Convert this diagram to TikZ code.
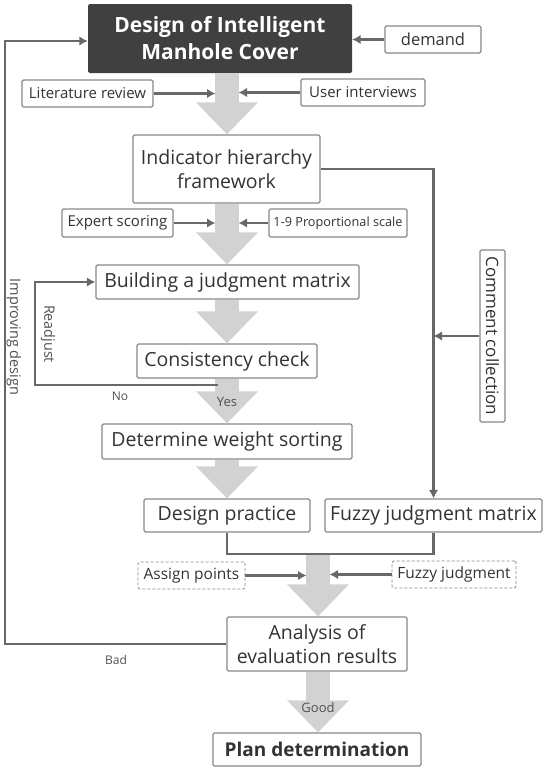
\documentclass[tikz,border=0pt]{standalone}
\usepackage{fontspec}
\setmainfont{Open Sans}
\usetikzlibrary{arrows.meta,calc}
\definecolor{txt}{HTML}{333333}
\definecolor{bord}{HTML}{888888}
\definecolor{ln}{HTML}{686868}
\definecolor{bigc}{HTML}{D2D2D2}
\definecolor{darkbox}{HTML}{404040}
\definecolor{labc}{HTML}{505050}
\begin{document}
\begin{tikzpicture}[x=1pt,y=-1pt,
  box/.style={draw=bord,line width=1.2pt,rounded corners=1.5pt,fill=white,text=txt,align=center,inner sep=0pt},
  dbox/.style={box,dashed,dash pattern=on 3pt off 2pt,line width=0.9pt},
  topbox/.style={fill=darkbox,rounded corners=1.5pt,text=white,align=center,inner sep=0pt,font=\fontsize{21}{27}\selectfont\bfseries},
  mainf/.style={font=\fontsize{19.5}{24}\selectfont},
  smallf/.style={font=\fontsize{15}{18}\selectfont},
  conn/.style={draw=ln,line width=2.5pt,-{Latex[length=8.5pt,width=9.5pt]}},
  plainln/.style={draw=ln,line width=2.5pt},
  bigarr/.style={draw=bigc,line width=24pt,-{Triangle[length=32pt,width=60pt]}},
  lab/.style={text=labc,inner sep=0pt}
]
\useasboundingbox (0,0) rectangle (550,771);

% column coordinates
\coordinate (c1) at (227,0);
\coordinate (c2) at (318,0);
\coordinate (tL) at (215.5,0);
\coordinate (tR) at (238.5,0);
\coordinate (uL) at (306.5,0);
\coordinate (uR) at (329.5,0);
\coordinate (fl) at (5,0);

% nodes
\node[topbox,minimum width=264,minimum height=69] (top) at (220,38.5) {Design of Intelligent\\Manhole Cover};
\node[box,font=\fontsize{16.5}{20}\selectfont,minimum width=96,minimum height=27] (dem) at (433,39.5) {demand};
\node[box,smallf,minimum width=131,minimum height=27] (lit) at (87.5,93.5) {Literature review};
\node[box,smallf,minimum width=124,minimum height=27] (ui) at (363,92.5) {User interviews};
\node[box,mainf,minimum width=187,minimum height=68] (ind) at (226.5,169) {Indicator hierarchy\\framework};
\node[box,smallf,minimum width=111,minimum height=28] (exp) at (117.5,223) {Expert scoring};
\node[box,font=\fontsize{12.7}{15}\selectfont,minimum width=138,minimum height=28] (scl) at (338,223) {1-9 Proportional scale};
\node[box,mainf,minimum width=263,minimum height=34] (bld) at (227.5,282) {Building a judgment matrix};
\node[box,mainf,minimum width=180,minimum height=34] (cons) at (227,361) {Consistency check};
\node[box,mainf,minimum width=250,minimum height=35] (det) at (227,441.5) {Determine weight sorting};
\node[box,mainf,minimum width=166,minimum height=33] (dp) at (227,515.5) {Design practice};
\node[box,mainf,minimum width=217,minimum height=33] (fz) at (433.5,515.5) {Fuzzy judgment matrix};
\node[dbox,font=\fontsize{15.5}{18}\selectfont,minimum width=107,minimum height=27] (asg) at (191.5,575.5) {Assign points};
\node[dbox,font=\fontsize{15.5}{18}\selectfont,minimum width=124,minimum height=27] (fj) at (454,574.5) {Fuzzy judgment};
\node[box,mainf,minimum width=180,minimum height=54] (ana) at (317,644) {Analysis of\\evaluation results};
\node[box,font=\fontsize{19}{23}\selectfont\bfseries,minimum width=208,minimum height=33] (plan) at (317,749.5) {Plan determination};
\node[box,rotate=-90,font=\fontsize{17}{20}\selectfont,minimum width=172,minimum height=25] (com) at (492.5,336) {Comment collection};

% big grey arrows
\coordinate (bj) at (318,554);
\draw[bigarr] (top.south -| c1) -- (ind.north -| c1);
\draw[bigarr] (ind.south -| c1) -- (bld.north -| c1);
\draw[bigarr] (bld.south -| c1) -- (cons.north -| c1);
\draw[bigarr] (cons.south -| c1) -- (det.north -| c1);
\draw[bigarr] (det.south -| c1) -- (dp.north -| c1);
\draw[bigarr] (bj) -- (ana.north -| c2);
\draw[bigarr] (ana.south -| c2) -- (plan.north -| c2);

% labels
\node[lab,rotate=-90,font=\fontsize{14.5}{17}\selectfont] (imp) at (14,337) {Improving design};
\node[lab,rotate=-90,font=\fontsize{14.3}{17}\selectfont] (rdj) at (48,334) {Readjust};
\node[lab,font=\fontsize{12}{14}\selectfont] (no) at (120,396) {No};
\node[lab,font=\fontsize{12}{14}\selectfont] (bad) at (116,660) {Bad};
\node[lab,font=\fontsize{13}{15}\selectfont] (yes) at (227,402) {Yes};
\node[lab,font=\fontsize{13}{15}\selectfont] (good) at (318,708) {Good};

% connectors
\draw[conn] (dem.west) -- (top.east |- dem.west);
\draw[conn] (lit.east) -- (lit.east -| tL);
\draw[conn] (ui.west) -- (ui.west -| tR);
\draw[conn] (exp.east) -- (exp.east -| tL);
\draw[conn] (scl.west) -- (scl.west -| tR);
\draw[conn] (asg.east) -- (asg.east -| uL);
\draw[conn] (fj.west) -- (fj.west -| uR);
\draw[conn] (ind.east) -| (fz.north);
\draw[conn] (com.south) -- (com.south -| fz.north);
\coordinate (ra) at (218,385);
\coordinate (rl) at (35,385);
\draw[conn] (ra) -- (rl) |- (bld.west);
\draw[plainln] (dp.south) |- (bj) -| (fz.south);
\coordinate (fb) at (5,41);
\draw[conn] (ana.west) -- (ana.west -| fl) -- (fb) -- (top.west |- fb);
\end{tikzpicture}
\end{document}
